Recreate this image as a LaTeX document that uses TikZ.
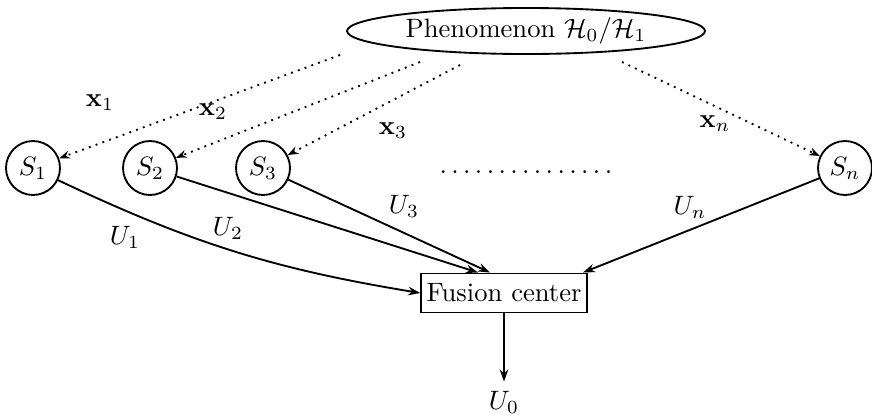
\documentclass[tikz,border=0pt]{standalone}
\usetikzlibrary{arrows.meta,shapes.geometric,calc}
\begin{document}
\begin{tikzpicture}[x=0.376pt,y=-0.376pt,
  sensor/.style={circle,draw,line width=0.7pt,minimum size=20.3pt,inner sep=0pt},
  obs/.style={dotted,line width=0.7pt,-{Stealth[length=4pt,width=3pt]}},
  msg/.style={line width=0.7pt,-{Stealth[length=4.5pt,width=3.2pt]}}]
\useasboundingbox (0,0) rectangle (872,417);
\node[ellipse,draw,line width=0.7pt,minimum width=134.6pt,minimum height=17.3pt,inner sep=0pt] (ph) at (526,31) {Phenomenon $\mathcal{H}_0/\mathcal{H}_1$};
\node[sensor] (s1) at (33,168) {$S_1$};
\node[sensor] (s2) at (150,168) {$S_2$};
\node[sensor] (s3) at (263,168) {$S_3$};
\node[sensor] (sn) at (845,168) {$S_n$};
\node[draw,line width=0.7pt,minimum height=14.7pt,inner sep=2pt] (fc) at (504,293) {Fusion center};
\node (u0) at (504,402) {$U_0$};
\node (dots) at (526,172) {$\ldots\ldots\ldots\ldots\ldots$};
\coordinate (o1) at (340,55);
\coordinate (o2) at (420,62);
\coordinate (o3) at (460,65);
\coordinate (on) at (622,62);
\draw[obs] (o1) -- (s1);
\draw[obs] (o2) -- (s2);
\draw[obs] (o3) -- (s3);
\draw[obs] (on) -- (sn);
\node at (100,103) {$\mathbf{x}_1$};
\node at (213,112) {$\mathbf{x}_2$};
\node at (393,131) {$\mathbf{x}_3$};
\node at (715,124) {$\mathbf{x}_n$};
\draw[msg] (s1) to[bend right=8] (fc.west);
\draw[msg] (s2) -- ($(fc.north)+(-26,0)$);
\draw[msg] (s3) -- ($(fc.north)+(-14,0)$);
\draw[msg] (sn) -- ($(fc.north)+(79,0)$);
\draw[msg] (fc) -- (u0);
\node at (125,237) {$U_1$};
\node at (228,228) {$U_2$};
\node at (404,206) {$U_3$};
\node at (690,207) {$U_n$};
\end{tikzpicture}
\end{document}
